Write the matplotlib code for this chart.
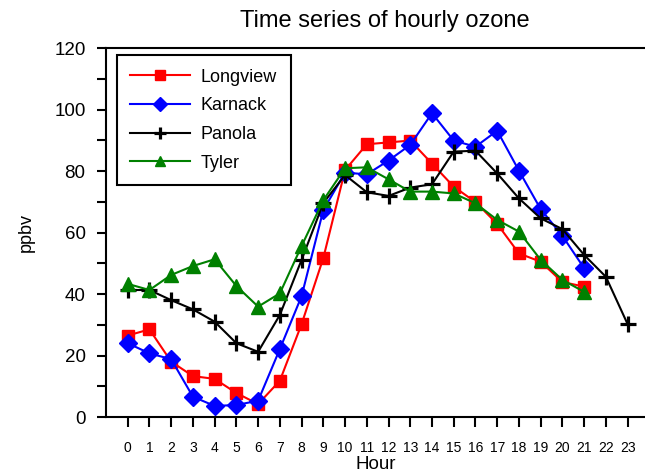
import matplotlib
matplotlib.use('Agg')
from matplotlib import pyplot as plt

plt.rcParams['font.family'] = ['Liberation Sans', 'DejaVu Sans']

hours = list(range(24))
hour_labels = [str(h) for h in hours]

longview = [26.5, 28.5, 18.0, 13.3, 12.4, 7.8, 4.2, 11.8, 30.2, 51.7, 80.3, 88.7,
            89.3, 89.9, 82.4, 74.9, 69.9, 62.8, 53.2, 50.5, 43.9, 42.4]
karnack = [24.0, 20.7, 18.8, 6.6, 3.6, 3.9, 5.3, 22.1, 39.3, 67.3, 79.5, 78.9,
           83.4, 88.5, 98.8, 89.9, 87.9, 93.1, 80.1, 67.6, 58.9, 48.4]
panola = [41.3, 41.3, 38.0, 35.0, 31.0, 24.0, 21.2, 33.2, 51.1, 69.6, 78.7, 73.1,
          71.9, 74.6, 75.7, 86.3, 86.6, 79.2, 71.1, 64.6, 61.1, 52.7, 45.6, 30.2]
tyler = [43.3, 41.3, 46.2, 49.1, 51.3, 42.6, 35.9, 40.2, 55.6, 70.5, 80.9, 81.2,
         77.3, 73.3, 73.3, 72.7, 69.5, 64.1, 60.3, 51.1, 44.6, 40.7]

fig = plt.figure(figsize=(6.45, 4.72), dpi=100)
ax = fig.add_axes([0.1643, 0.1165, 0.8357, 0.7818])

ax.plot(hours[:len(longview)], longview, color='red', marker='s', ms=9,
        lw=1.5, label='Longview')
ax.plot(hours[:len(karnack)], karnack, color='blue', marker='D', ms=9.5,
        lw=1.5, label='Karnack')
ax.plot(hours[:len(panola)], panola, color='black', marker='+', ms=11.5, mew=2.3,
        lw=1.5, label='Panola')
ax.plot(hours[:len(tyler)], tyler, color='green', marker='^', ms=10,
        lw=1.5, label='Tyler')

ax.set_xlim(-1, 23.8)
ax.set_ylim(0, 120)
ax.set_xticks(hours)
ax.set_xticklabels(hour_labels, fontsize=10)
ax.set_yticks(range(0, 121, 20))
ax.set_yticks(range(10, 120, 20), minor=True)
ax.tick_params(axis='y', which='both', direction='out', length=6.7, width=1.5,
               labelsize=13.5, pad=8)
ax.tick_params(axis='x', direction='out', length=7, width=1.5, pad=10.5)

ax.spines['right'].set_visible(False)
for s in ['left', 'bottom', 'top']:
    ax.spines[s].set_linewidth(1.5)

ax.set_xlabel('Hour', fontsize=13.5, labelpad=0.5)
ax.set_ylabel('ppbv', fontsize=13, labelpad=14)
ax.set_title('Time series of hourly ozone', fontsize=17, pad=15, x=0.517)

leg = ax.legend(loc='upper left', bbox_to_anchor=(0.02, 0.981), borderaxespad=0,
                fontsize=13, handlelength=3.3, markerscale=0.75, fancybox=False,
                edgecolor='black', framealpha=1, borderpad=0.75,
                labelspacing=0.65, handletextpad=0.6)
leg.get_frame().set_linewidth(1.5)

fig.savefig('out.png', dpi=100)
